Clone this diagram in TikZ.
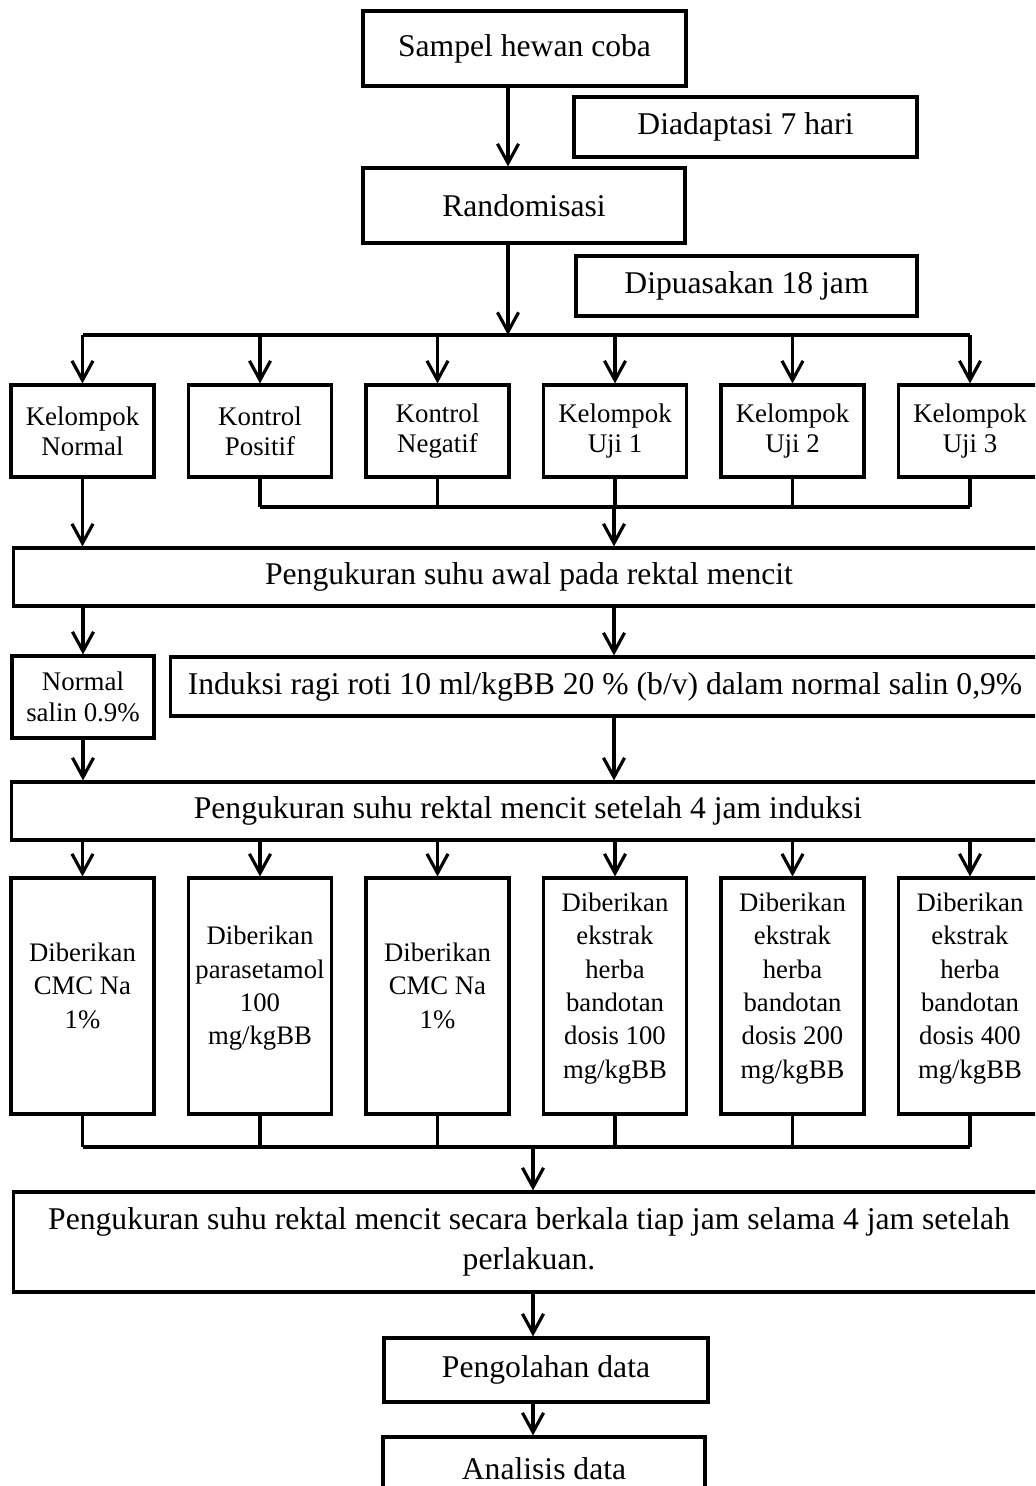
\documentclass[tikz,border=0pt]{standalone}
\usepackage{fontspec}
\setmainfont{Liberation Serif}
\usetikzlibrary{arrows.meta}

\begin{document}
\begin{tikzpicture}[x=0.02cm,y=-0.02cm,
  every node/.style={font=\fontsize{18}{22.8}\selectfont},
  box/.style={draw,line width=1.8pt,align=center,inner sep=2pt},
  grpbox/.style={box,minimum width=2.86cm,minimum height=1.84cm,font=\fontsize{15.3}{17}\selectfont},
  trtbox/.style={box,minimum width=2.86cm,minimum height=4.72cm,text depth=12pt,font=\fontsize{15.2}{19}\selectfont},
  arr/.style={-{Straight Barb[length=11pt,width=12pt]},line width=1.8pt},
  bar/.style={line width=2.6pt}]
\clip (0,0) rectangle (1035,1486);
\fill[white] (0,0) rectangle (1035,1486);

% top part
\node[box,minimum width=6.46cm,minimum height=1.5cm] (samp) at (524.5,48.5) {Sampel hewan coba};
\node[box,minimum width=6.86cm,minimum height=1.2cm] (adapt) at (745.5,127) {Diadaptasi 7 hari};
\node[box,minimum width=6.44cm,minimum height=1.5cm] (rand) at (524,205.5) {Randomisasi};
\node[box,minimum width=6.82cm,minimum height=1.2cm] (puasa) at (746.5,286) {Dipuasakan 18 jam};
\coordinate (b1) at (508,335);
\coordinate (b2) at (614,507);
\coordinate (b3) at (533,1147);
\draw[arr] (samp.south -| b1) -- (b1 |- rand.north);
\draw[arr] (rand.south -| b1) -- (b1);

% groups
\node[grpbox] (g1) at (82.5,431) {Kelompok\\Normal};
\node[grpbox] (g2) at (260,431) {Kontrol\\Positif};
\node[grpbox] (g3) at (437.5,431) {Kontrol\\Negatif};
\node[grpbox] (g4) at (615,431) {Kelompok\\Uji 1};
\node[grpbox] (g5) at (792.5,431) {Kelompok\\Uji 2};
\node[grpbox] (g6) at (970,431) {Kelompok\\Uji 3};
\draw[bar] (g1.north |- b1) -- (g6.north |- b1);
\draw[arr] (g1.north |- b1) -- (g1.north);
\draw[arr] (g2.north |- b1) -- (g2.north);
\draw[arr] (g3.north |- b1) -- (g3.north);
\draw[arr] (g4.north |- b1) -- (g4.north);
\draw[arr] (g5.north |- b1) -- (g5.north);
\draw[arr] (g6.north |- b1) -- (g6.north);
\draw[bar] (g2.south |- b2) -- (g6.south |- b2);
\draw[line width=1.8pt] (g2.south) -- (g2.south |- b2);
\draw[line width=1.8pt] (g3.south) -- (g3.south |- b2);
\draw[line width=1.8pt] (g4.south) -- (g4.south |- b2);
\draw[line width=1.8pt] (g5.south) -- (g5.south |- b2);
\draw[line width=1.8pt] (g6.south) -- (g6.south |- b2);

% measurement and induction
\node[box,minimum width=20.64cm,minimum height=1.16cm] (awal) at (529,577) {Pengukuran suhu awal pada rektal mencit};
\draw[arr] (g1.south) -- (g1.south |- awal.north);
\draw[arr] (b2) -- (b2 |- awal.north);
\node[box,minimum width=2.84cm,minimum height=1.64cm,font=\fontsize{15.3}{18}\selectfont] (nsal) at (83,697) {Normal\\salin 0.9\%};
\node[box,minimum width=17.4cm,minimum height=1.18cm] (induksi) at (605,686.5) {Induksi ragi roti 10 ml/kgBB 20 \% (b/v) dalam normal salin 0,9\%};
\draw[arr] (awal.south -| nsal) -- (nsal.north);
\draw[arr] (awal.south -| b2) -- (b2 |- induksi.north);
\node[box,minimum width=20.68cm,minimum height=1.16cm] (jam4) at (528,811) {Pengukuran suhu rektal mencit setelah 4 jam induksi};
\draw[arr] (nsal.south) -- (nsal.south |- jam4.north);
\draw[arr] (induksi.south -| b2) -- (b2 |- jam4.north);

% treatments
\node[trtbox] (t1) at (82.5,996) {Diberikan\\CMC Na\\1\%};
\node[trtbox] (t2) at (260,996) {Diberikan\\parasetamol\\100\\mg/kgBB};
\node[trtbox] (t3) at (437.5,996) {Diberikan\\CMC Na\\1\%};
\node[trtbox] (t4) at (615,996) {Diberikan\\ekstrak\\herba\\bandotan\\dosis 100\\mg/kgBB};
\node[trtbox] (t5) at (792.5,996) {Diberikan\\ekstrak\\herba\\bandotan\\dosis 200\\mg/kgBB};
\node[trtbox] (t6) at (970,996) {Diberikan\\ekstrak\\herba\\bandotan\\dosis 400\\mg/kgBB};
\draw[arr] (jam4.south -| t1) -- (t1.north);
\draw[arr] (jam4.south -| t2) -- (t2.north);
\draw[arr] (jam4.south -| t3) -- (t3.north);
\draw[arr] (jam4.south -| t4) -- (t4.north);
\draw[arr] (jam4.south -| t5) -- (t5.north);
\draw[arr] (jam4.south -| t6) -- (t6.north);
\draw[line width=1.8pt] (t1.south) -- (t1.south |- b3);
\draw[line width=1.8pt] (t2.south) -- (t2.south |- b3);
\draw[line width=1.8pt] (t3.south) -- (t3.south |- b3);
\draw[line width=1.8pt] (t4.south) -- (t4.south |- b3);
\draw[line width=1.8pt] (t5.south) -- (t5.south |- b3);
\draw[line width=1.8pt] (t6.south) -- (t6.south |- b3);
\draw[bar] (t1.south |- b3) -- (t6.south |- b3);

% end part
\node[box,minimum width=20.64cm,minimum height=2cm] (fin) at (529,1242) {Pengukuran suhu rektal mencit secara berkala tiap jam selama 4 jam setelah\\perlakuan.};
\draw[arr] (b3) -- (b3 |- fin.north);
\node[box,minimum width=6.48cm,minimum height=1.28cm] (olah) at (546,1370) {Pengolahan data};
\node[box,minimum width=6.44cm,minimum height=1.26cm] (anal) at (544,1468.5) {Analisis data};
\draw[arr] (fin.south -| b3) -- (b3 |- olah.north);
\draw[arr] (olah.south -| b3) -- (b3 |- anal.north);
\end{tikzpicture}
\end{document}
